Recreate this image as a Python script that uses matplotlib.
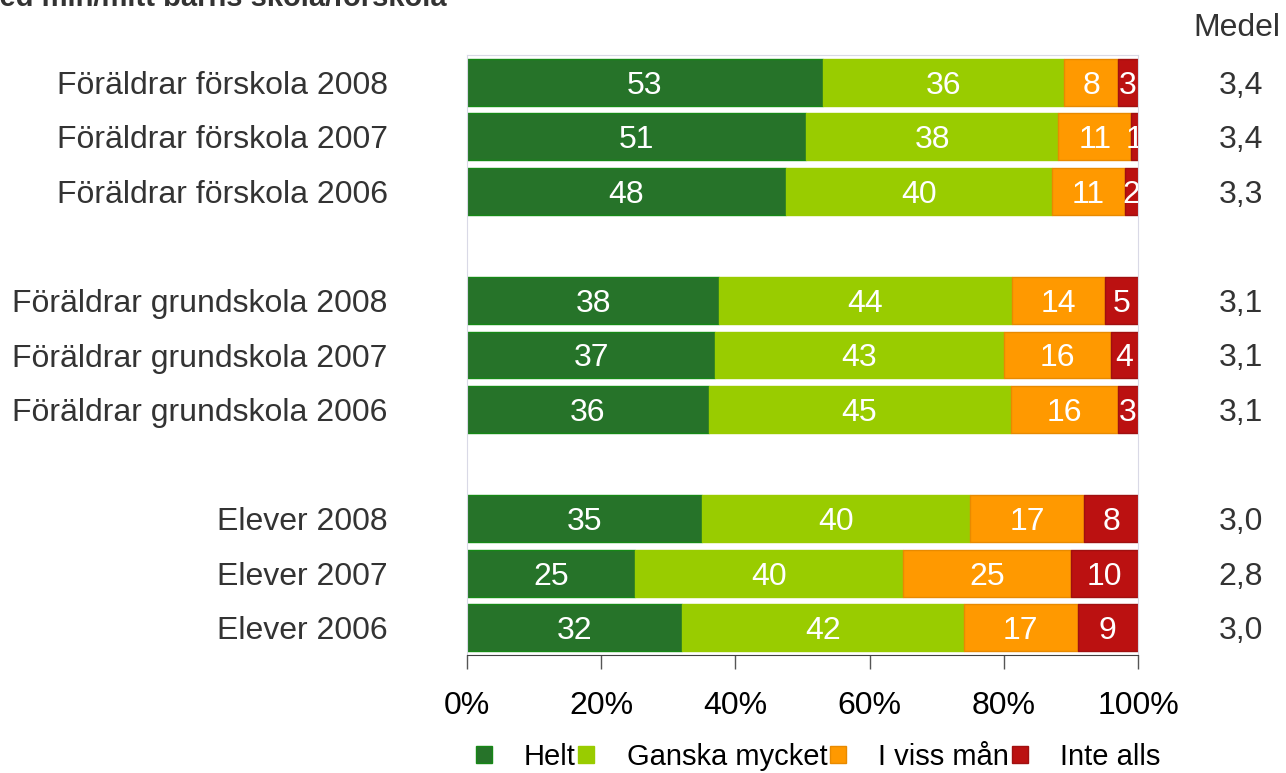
import numpy as np
import matplotlib
matplotlib.use('Agg')
import matplotlib.pyplot as plt

plt.rcParams['font.family'] = ['Liberation Sans', 'DejaVu Sans']

# data
grupper = ['Föräldrar förskola 2008', 'Föräldrar förskola 2007', 'Föräldrar förskola 2006',
           'Föräldrar grundskola 2008', 'Föräldrar grundskola 2007', 'Föräldrar grundskola 2006',
           'Elever 2008', 'Elever 2007', 'Elever 2006']
rad_pos = [0, 1, 2, 4, 5, 6, 8, 9, 10]
helt = [53, 51, 48, 38, 37, 36, 35, 25, 32]
ganska = [36, 38, 40, 44, 43, 45, 40, 40, 42]
viss = [8, 11, 11, 14, 16, 16, 17, 25, 17]
inte = [3, 1, 2, 5, 4, 3, 8, 10, 9]
medel = ['3,4', '3,4', '3,3', '3,1', '3,1', '3,1', '3,0', '2,8', '3,0']
serier = ['Helt', 'Ganska mycket', 'I viss mån', 'Inte alls']
farger = ['#267329', '#99CC00', '#FF9900', '#BB1111']
kanter = ['#168816', '#99CC00', '#E88A00', '#A01010']
xticks = [0, 20, 40, 60, 80, 100]

fig = plt.figure(figsize=(12.86, 7.73), dpi=100)
ax = fig.add_axes([467 / 1286, 1 - 655 / 773, 671 / 1286, 600 / 773])

data = np.array([helt, ganska, viss, inte], dtype=float)
andel = data / data.sum(axis=0) * 100
left = np.zeros(len(grupper))
for i in range(4):
    ax.barh(rad_pos, andel[i], left=left, height=0.86, color=farger[i],
            edgecolor=kanter[i], linewidth=1, label=serier[i])
    for y, l, w, v in zip(rad_pos, left, andel[i], data[i]):
        ax.text(l + w / 2, y, f'{int(v)}', ha='center', va='center_baseline',
                color='white', fontsize=23, clip_on=True)
    left += andel[i]

ax.set_xlim(0, 100)
ax.set_ylim(10.5, -0.5)
ax.set_yticks(rad_pos)
ax.set_yticklabels(grupper, fontsize=23, color='#333333', va='center_baseline')
ax.tick_params(axis='y', length=0, pad=57)
ax.set_xticks(xticks)
ax.set_xticklabels([f'{t}%' for t in xticks], fontsize=23)
ax.tick_params(axis='x', length=10, width=1, color='#555555', pad=16)

for s in ['left', 'top', 'right']:
    ax.spines[s].set_color('#d9d9e6')
ax.spines['bottom'].set_color('#404040')

# medelvärden
tr = matplotlib.transforms.blended_transform_factory(ax.transAxes, ax.transData)
for y, m in zip(rad_pos, medel):
    ax.text(1.153, y, m, transform=tr, ha='center', va='center_baseline',
            fontsize=23, color='#333333')
ax.text(1.1475, -1.05, 'Medel', transform=tr, ha='center', va='center_baseline',
        fontsize=23, color='#333333', clip_on=False)

fig.text(447 / 1286, 1 - 6 / 773, 'Jag är nöjd med min/mitt barns skola/förskola',
         ha='right', va='baseline', fontsize=21, fontweight='bold', color='#333333')

fig.legend(loc='center', bbox_to_anchor=(818 / 1286, 1 - 757 / 773), ncol=4,
           frameon=False, fontsize=21, handlelength=0.55, handleheight=0.55,
           handletextpad=1.1, columnspacing=0.1)

fig.savefig('out.png', dpi=100)
